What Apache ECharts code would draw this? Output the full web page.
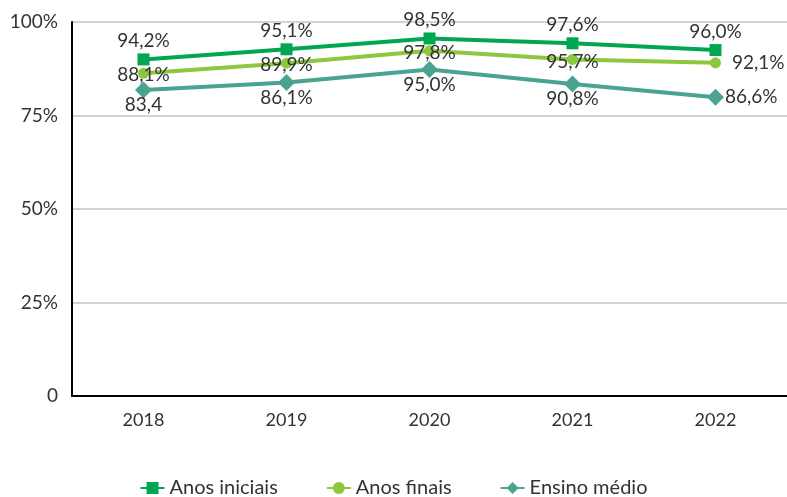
<!DOCTYPE html>
<html>
<head>
<meta charset="utf-8">
<script src="https://cdn.jsdelivr.net/npm/echarts@6/dist/echarts.min.js"></script>
<style>html,body{margin:0;padding:0;background:#fff}#c{width:787px;height:497px}</style>
</head>
<body>
<div id="c"></div>
<script>
var categories = ['2018', '2019', '2020', '2021', '2022'];
var seriesNames = ['Anos iniciais', 'Anos finais', 'Ensino médio'];
// plotted positions
var anosIniciais = [90.0, 92.7, 95.6, 94.3, 92.5];
var anosFinais = [86.3, 89.0, 92.3, 90.0, 89.1];
var ensinoMedio = [81.8, 83.8, 87.3, 83.4, 79.9];
// label texts printed in the picture
var anosIniciaisLabels = ['94,2%', '95,1%', '98,5%', '97,6%', '96,0%'];
var anosFinaisLabels = ['88,1%', '89,9%', '97,8%', '95,7%', '92,1%'];
var ensinoMedioLabels = ['83,4', '86,1%', '95,0%', '90,8%', '86,6%'];
var yTicks = [0, 25, 50, 75, 100];

var FONT = 'Lato';
var TXT = '#333333';

function build(values, labels, normalLabel, lastLabel) {
  return values.map(function (v, i) {
    var isLast = i === values.length - 1;
    return {
      value: v,
      label: Object.assign({ show: true, formatter: labels[i], color: TXT, fontFamily: FONT, fontSize: 19 },
        isLast ? lastLabel : normalLabel)
    };
  });
}

var chart = echarts.init(document.getElementById('c'));
chart.setOption({
  animation: false,
  textStyle: { fontFamily: FONT },
  grid: { left: 72, right: 0, top: 22, bottom: 101 },
  legend: {
    top: 473,
    left: 'center',
    itemWidth: 24,
    itemHeight: 15,
    itemGap: 48,
    textStyle: { fontFamily: FONT, fontSize: 20, color: TXT },
    data: seriesNames
  },
  xAxis: {
    type: 'category',
    data: categories,
    axisLine: { lineStyle: { color: '#000', width: 2 } },
    axisTick: { show: false },
    axisLabel: { color: TXT, fontFamily: FONT, fontSize: 18, margin: 15 }
  },
  yAxis: {
    type: 'value',
    min: 0, max: 100, interval: 25,
    axisLine: { show: true, lineStyle: { color: '#000', width: 2 } },
    axisTick: { show: false },
    splitLine: { lineStyle: { color: '#c4c4c4', width: 1.5 } },
    axisLabel: {
      color: TXT, fontFamily: FONT, fontSize: 19, margin: 14,
      formatter: function (v) { return yTicks.indexOf(v) >= 0 ? (v === 0 ? '0' : v + '%') : ''; }
    }
  },
  series: [
    {
      name: seriesNames[0], type: 'line', symbol: 'rect', symbolSize: 12,
      lineStyle: { width: 4, color: '#00a651' }, itemStyle: { color: '#00a651' },
      z: 4,
      data: build(anosIniciais, anosIniciaisLabels, { position: 'top', distance: 3 }, { position: 'top', distance: 3 })
    },
    {
      name: seriesNames[1], type: 'line', symbol: 'circle', symbolSize: 11,
      lineStyle: { width: 4, color: '#8dc63f' }, itemStyle: { color: '#8dc63f' },
      z: 3,
      data: build(anosFinais, anosFinaisLabels, { position: 'inside', offset: [0, 2] }, { position: 'right', distance: 11 })
    },
    {
      name: seriesNames[2], type: 'line', symbol: 'diamond', symbolSize: 17,
      lineStyle: { width: 4, color: '#4aa391' }, itemStyle: { color: '#4aa391' },
      z: 2,
      data: build(ensinoMedio, ensinoMedioLabels, { position: 'bottom', distance: -3 }, { position: 'right', distance: 1 })
    }
  ]
});
</script>
</body>
</html>
